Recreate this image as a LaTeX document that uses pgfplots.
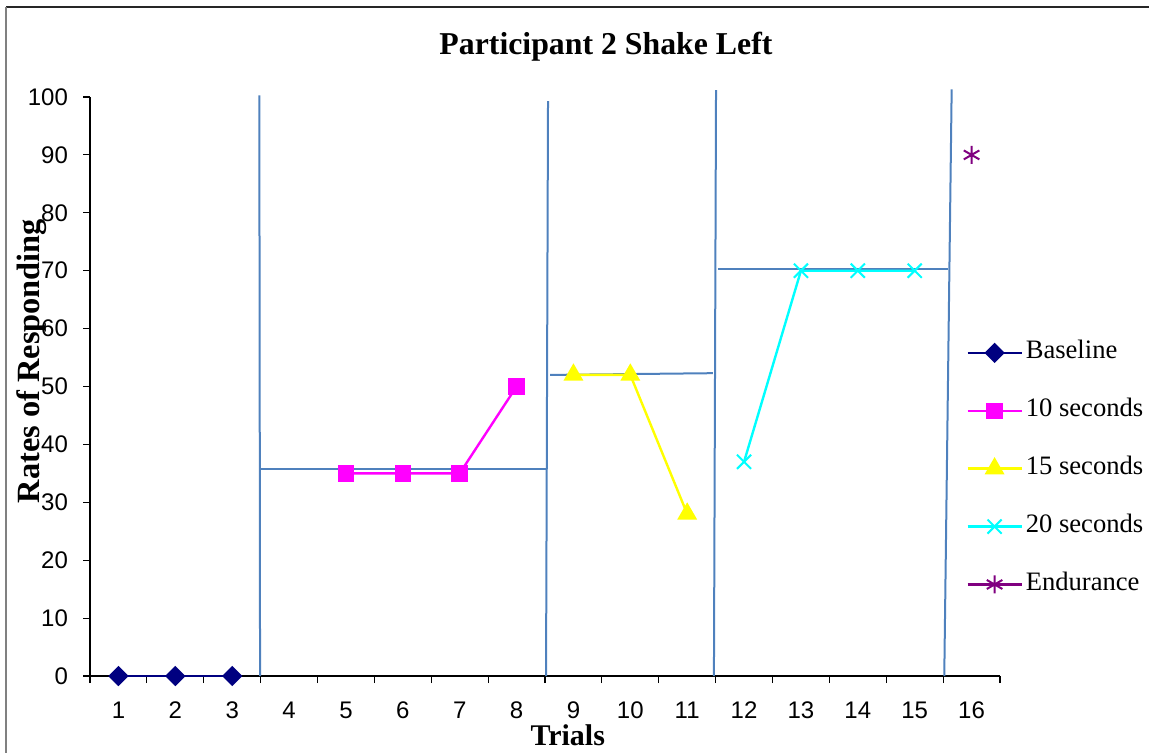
\documentclass[border=0pt]{standalone}
\usepackage{pgfplots}
\pgfplotsset{compat=1.18}
\usepackage{fontspec}
\setmainfont{Liberation Serif}
\newfontfamily\arial{Liberation Sans}
\definecolor{phase}{RGB}{79,129,189}
\definecolor{navyb}{RGB}{0,0,128}
\definecolor{mag}{RGB}{255,0,255}
\definecolor{yel}{RGB}{255,255,0}
\definecolor{cya}{RGB}{0,255,255}
\definecolor{purp}{RGB}{128,0,128}
\begin{document}
\begin{tikzpicture}
\useasboundingbox (0,0) rectangle (574.5pt,-376.5pt);
\draw[line width=0.8pt, black!85] (3pt,-3.5pt) -- (574.5pt,-3.5pt);
\draw[line width=0.8pt, black!50] (3pt,-3.5pt) -- (3pt,-376.5pt);
\begin{axis}[
  at={(45pt,-338pt)}, anchor=south west,
  scale only axis, width=455pt, height=289.5pt,
  xmin=0.5, xmax=16.5, ymin=0, ymax=100,
  clip=false,
  axis lines*=left,
  axis line style={line width=0.6pt, black},
  xtick={1,...,16},
  major x tick style={draw=none},
  minor xtick={0.5,1.5,...,16.5},
  ytick={0,10,...,100},
  tick align=outside,
  major tick length=3.5pt, minor tick length=3.5pt,
  tick style={line width=0.6pt, black},
  /pgf/number format/assume math mode=true,
  ticklabel style={font=\arial\fontsize{12}{14}\selectfont},
  xticklabel style={yshift=-6pt},
  yticklabel style={xshift=-4pt},
  title={Participant 2 Shake Left},
  title style={font=\bfseries\fontsize{15.9}{18}\selectfont, at={(axis description cs:0.567,1.0898)}, anchor=center, yshift=-7pt},
  xlabel={Trials},
  xlabel style={font=\bfseries\fontsize{15}{17}\selectfont, at={(axis description cs:0.525,-0.102)}, anchor=center},
  ylabel={Rates of Responding},
  ylabel style={font=\bfseries\fontsize{16.2}{18}\selectfont, at={(axis description cs:-0.064,0.544)}, anchor=center, rotate=0},
  legend style={at={(axis description cs:0.9626,0.5795)}, anchor=north west, draw=none, fill=none,
    font=\fontsize{13.3}{15}\selectfont, row sep=16.95pt, column sep=1.5pt, inner sep=0pt,
    nodes={inner sep=0pt, text height=9pt, text depth=3pt}},
  legend cell align=left,
  legend image code/.code={\draw[mark repeat=2,mark phase=2,#1] plot coordinates {(0pt,0pt) (13.5pt,0pt) (27pt,0pt)};},
]
% phase lines
\addplot[phase, line width=1pt, forget plot] coordinates {(3.477,100.3) (3.49,0)};
\addplot[phase, line width=1pt, forget plot] coordinates {(8.553,99.3) (8.518,0)};
\addplot[phase, line width=1pt, forget plot] coordinates {(11.507,101.2) (11.47,0)};
\addplot[phase, line width=1pt, forget plot] coordinates {(15.65,101.3) (15.52,0)};
\addplot[phase, line width=1pt, forget plot] coordinates {(3.49,35.75) (8.53,35.75)};
\addplot[phase, line width=1pt, forget plot] coordinates {(8.588,52.0) (11.45,52.3)};
\addplot[phase, line width=1pt, forget plot] coordinates {(11.54,70.3) (15.585,70.3)};
% data
\addplot[navyb, line width=1.2pt, mark=square*, mark size=3pt, mark options={rotate=45, solid}] coordinates {(1,0) (2,0) (3,0)};
\addlegendentry{Baseline}
\addplot[mag, line width=1.2pt, mark=square*, mark size=3.5pt, mark options={solid}] coordinates {(5,35) (6,35) (7,35) (8,50)};
\addlegendentry{10 seconds}
\addplot[yel, line width=1.2pt, mark=triangle*, mark size=4.6pt, mark options={solid}] coordinates {(9,52) (10,52) (11,28)};
\addlegendentry{15 seconds}
\addplot[cya, line width=1.2pt, mark=x, mark size=5pt, mark options={solid, line width=1pt}] coordinates {(12,37) (13,70) (14,70) (15,70)};
\addlegendentry{20 seconds}
\addplot[purp, line width=1.2pt, mark=asterisk, mark size=4.5pt, mark options={solid, line width=1pt}] coordinates {(16,90)};
\addlegendentry{Endurance}
\end{axis}
\end{tikzpicture}
\end{document}
